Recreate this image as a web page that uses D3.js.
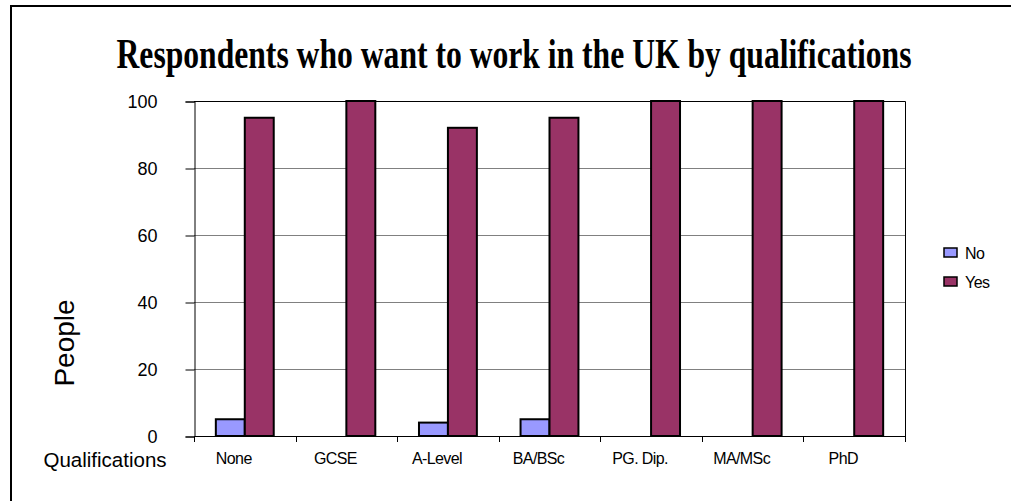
<!DOCTYPE html>
<html>
<head>
<meta charset="utf-8">
<script src="https://cdn.jsdelivr.net/npm/d3@7"></script>
<style>
  html, body { margin: 0; padding: 0; background: #fff; }
  svg { display: block; }
</style>
</head>
<body>
<svg id="chart" width="1011" height="501"></svg>
<script>
// Qualification levels and answers (people) per group
const categories = ["None", "GCSE", "A-Level", "BA/BSc", "PG. Dip.", "MA/MSc", "PhD"];
const seriesNames = ["No", "Yes"];
const noValues = [5, 0, 4, 5, 0, 0, 0];
const yesValues = [95, 100, 92, 95, 100, 100, 100];
const yTicks = [0, 20, 40, 60, 80, 100];
const seriesColors = ["#9999FF", "#993366"];

const svg = d3.select("#chart");
const W = 1011, H = 501;

// outer frame
svg.append("rect")
  .attr("x", 11).attr("y", 6)
  .attr("width", W + 10).attr("height", H + 10)
  .attr("fill", "#fff").attr("stroke", "#000").attr("stroke-width", 2);

const plot = { left: 194, right: 905, top: 101, bottom: 436 };

const x0 = d3.scaleBand().domain(categories).range([plot.left, plot.right]).paddingInner(0).paddingOuter(0);
const bandInner = 0.57;
const x1 = d3.scaleBand().domain(seriesNames)
  .range([x0.bandwidth() * (1 - bandInner) / 2, x0.bandwidth() * (1 + bandInner) / 2]);
const y = d3.scaleLinear().domain([0, 100]).range([plot.bottom, plot.top]);

// title: condensed bold serif, stretched vertically
svg.append("text")
  .attr("transform", "translate(514,68) scale(1,1.27)")
  .attr("text-anchor", "middle")
  .attr("font-family", "'Liberation Serif', 'Times New Roman', serif")
  .attr("font-weight", "bold")
  .attr("font-size", 33)
  .attr("textLength", 795)
  .attr("lengthAdjust", "spacingAndGlyphs")
  .text("Respondents who want to work in the UK by qualifications");

// gridlines
svg.append("g")
  .selectAll("line").data(yTicks.filter(d => d > 0)).join("line")
  .attr("x1", plot.left).attr("x2", plot.right)
  .attr("y1", d => Math.round(y(d)) + 0.5).attr("y2", d => Math.round(y(d)) + 0.5)
  .attr("stroke", "#808080").attr("stroke-width", 1);

// plot frame top and right
svg.append("path")
  .attr("d", `M${plot.left},${Math.round(plot.top) + 0.5}H${plot.right + 0.5}V${plot.bottom}`)
  .attr("fill", "none").attr("stroke", "#000").attr("stroke-width", 1);

// y axis
const yAxis = d3.axisLeft(y).tickValues(yTicks).tickSize(9).tickPadding(28).tickFormat(d3.format("d"));
const gy = svg.append("g").attr("transform", `translate(${plot.left + 0.5},0.5)`).call(yAxis);
gy.select(".domain").attr("stroke", "#000");
gy.selectAll(".tick line").attr("stroke", "#000");
gy.selectAll(".tick text")
  .attr("font-family", "Arial, 'Liberation Sans', sans-serif")
  .attr("font-size", 18).attr("fill", "#000").attr("dy", "0.35em");

// bars
const rows = categories.map((c, i) => ({ cat: c, values: [noValues[i], yesValues[i]] }));
const groups = svg.append("g").selectAll("g").data(rows).join("g")
  .attr("transform", d => `translate(${x0(d.cat)},0)`);
groups.selectAll("rect")
  .data(d => d.values.map((v, j) => ({ name: seriesNames[j], value: v, color: seriesColors[j] })).filter(d => d.value > 0))
  .join("rect")
  .attr("x", d => x1(d.name))
  .attr("width", x1.bandwidth())
  .attr("y", d => y(d.value))
  .attr("height", d => y(0) - y(d.value))
  .attr("fill", d => d.color)
  .attr("stroke", "#000").attr("stroke-width", 2);

// x axis
const xAxis = d3.axisBottom(x0).tickSize(0).tickPadding(17);
const gx = svg.append("g").attr("transform", `translate(0,${plot.bottom})`).call(xAxis);
gx.select(".domain").attr("stroke", "#000").attr("d", `M${plot.left},0.5H${plot.right + 0.5}`);
gx.selectAll(".tick text")
  .attr("font-family", "Arial, 'Liberation Sans', sans-serif")
  .attr("font-size", 16).attr("letter-spacing", "-0.6px").attr("fill", "#000")
  .attr("dx", -11);
// boundary tick marks between categories
const bounds = categories.map(c => x0(c)).concat([plot.right]);
gx.append("g").selectAll("line").data(bounds).join("line")
  .attr("x1", d => Math.round(d) + 0.5).attr("x2", d => Math.round(d) + 0.5)
  .attr("y1", 0).attr("y2", 6)
  .attr("stroke", "#000");

// axis titles
svg.append("text")
  .attr("x", 105).attr("y", 467)
  .attr("text-anchor", "middle")
  .attr("font-family", "Arial, 'Liberation Sans', sans-serif")
  .attr("font-size", 20.5)
  .text("Qualifications");

svg.append("text")
  .attr("transform", "translate(74,343) rotate(-90)")
  .attr("text-anchor", "middle")
  .attr("font-family", "Arial, 'Liberation Sans', sans-serif")
  .attr("font-size", 28)
  .text("People");

// legend
const legend = svg.append("g").attr("transform", "translate(944,248)");
const li = legend.selectAll("g").data(seriesNames).join("g")
  .attr("transform", (d, i) => `translate(0,${i * 29})`);
li.append("rect")
  .attr("width", 13).attr("height", 9)
  .attr("fill", (d, i) => seriesColors[i])
  .attr("stroke", "#000").attr("stroke-width", 1.5);
li.append("text")
  .attr("x", 21).attr("y", 5).attr("dy", "0.35em")
  .attr("font-family", "Arial, 'Liberation Sans', sans-serif")
  .attr("font-size", 16).attr("letter-spacing", "-0.5px")
  .text(d => d);
</script>
</body>
</html>
